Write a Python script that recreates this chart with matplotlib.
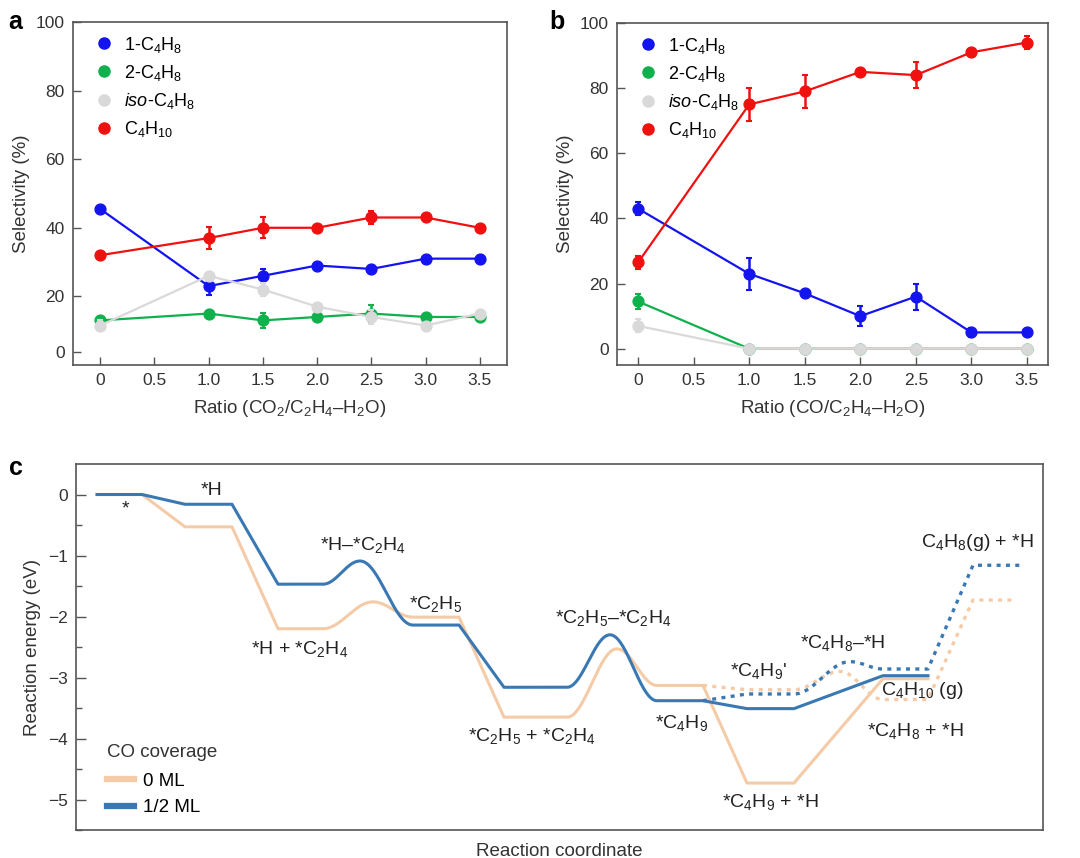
import numpy as np
import matplotlib
matplotlib.use("Agg")
import matplotlib.pyplot as plt
from matplotlib.lines import Line2D

plt.rcParams["font.family"] = ["Liberation Sans", "DejaVu Sans"]
plt.rcParams["mathtext.fontset"] = "custom"
plt.rcParams["mathtext.rm"] = "Liberation Sans"
plt.rcParams["mathtext.it"] = "Liberation Sans:italic"
plt.rcParams["mathtext.default"] = "regular"

# ---- data: panels a and b ----
ratio = [0, 1.0, 1.5, 2.0, 2.5, 3.0, 3.5]
xtick_vals = [0, 0.5, 1.0, 1.5, 2.0, 2.5, 3.0, 3.5]
xtick_labels = ["0", "0.5", "1.0", "1.5", "2.0", "2.5", "3.0", "3.5"]

a_1c4h8 = [45.5, 23, 26, 29, 28, 31, 31]
a_1c4h8_err = [0.5, 2.5, 2, 0.5, 0.5, 0.5, 0.5]
a_2c4h8 = [13, 15, 13, 14, 15, 14, 14]
a_2c4h8_err = [0.5, 0.5, 2.2, 0.5, 2.4, 0.5, 0.5]
a_iso = [11.5, 26, 22, 17, 14, 11.5, 15]
a_iso_err = [1.7, 0.5, 2, 0.5, 2, 0.5, 0.5]
a_c4h10 = [32, 37, 40, 40, 43, 43, 40]
a_c4h10_err = [1, 3.2, 3, 0.5, 2, 0.5, 0.5]

b_1c4h8 = [43, 23, 17, 10, 16, 5, 5]
b_1c4h8_err = [2, 5, 1, 3, 4, 1.5, 0.5]
b_2c4h8 = [14.5, 0, 0, 0, 0, 0, 0]
b_2c4h8_err = [2.3, 0, 0, 0, 0, 0, 0]
b_iso = [7, 0, 0, 0, 0, 0, 0]
b_iso_err = [2, 0, 0, 0, 0, 0, 0]
b_c4h10 = [26.5, 75, 79, 85, 84, 91, 94]
b_c4h10_err = [2, 5, 5, 1, 4, 1, 2]

# ---- data: panel c (energy diagram), x in reaction-coordinate units ----
lvl_start = [97, 185, 278, 413, 504, 657, 747, 883]
lvl_end = [142, 232, 323, 459, 567, 703, 794, 928]
blue_solid = [0, -0.16, -1.47, -2.14, -3.16, -3.38, -3.51, -2.97]
orange_solid = [0, -0.53, -2.20, -2.01, -3.65, -3.13, -4.73, -3.02]
# transition states: (index of level before, peak x, peak energy)
blue_ts = [(2, 360, -1.09), (4, 610, -2.30)]
orange_ts = [(2, 373, -1.76), (4, 617, -2.53)]

# dotted branch: *C4H9 -> *C4H9' -> TS -> *C4H8 + *H -> C4H8(g) + *H
dot_start = [657, 747, 883, 973]
dot_end = [703, 794, 928, 1020]
blue_dot = [-3.38, -3.27, -2.86, -1.16]
blue_dot_ts = (850, -2.74)
orange_dot_end = [703, 794, 928, 1013]
orange_dot = [-3.13, -3.20, -3.36, -1.73]
orange_dot_ts = (840, -2.90)

c_labels = [
    ("*", 125, -0.23),
    ("*H", 212, 0.07),
    ("*H–*C$_2$H$_4$", 363, -0.83),
    ("*H + *C$_2$H$_4$", 300, -2.53),
    ("*C$_2$H$_5$", 436, -1.79),
    ("*C$_2$H$_5$ + *C$_2$H$_4$", 532, -3.96),
    ("*C$_2$H$_5$–*C$_2$H$_4$", 613, -2.02),
    ("*C$_4$H$_9$", 682, -3.74),
    ("*C$_4$H$_9$'", 758, -2.90),
    ("*C$_4$H$_8$–*H", 843, -2.43),
    ("C$_4$H$_{10}$ (g)", 922, -3.22),
    ("*C$_4$H$_8$ + *H", 915, -3.88),
    ("*C$_4$H$_9$ + *H", 770, -5.04),
    ("C$_4$H$_8$(g) + *H", 977, -0.78),
]

BLUE = "#1414f0"
GREEN = "#10b04c"
GREY = "#d9d9d9"
RED = "#f01010"
C_BLUE = "#3a78b4"
C_ORANGE = "#f5cba7"
SPINE = "#555555"
TXT = "#333333"


def hump(x0, e0, xp, ep, x1, e1, n=40):
    t = np.linspace(0, 1, n)
    xa = x0 + (xp - x0) * t
    ea = e0 + (ep - e0) * (1 - np.cos(np.pi * t)) / 2
    xb = xp + (x1 - xp) * t
    eb = e1 + (ep - e1) * (1 + np.cos(np.pi * t)) / 2
    return np.concatenate([xa, xb]), np.concatenate([ea, eb])


def path(starts, ends, energies, ts):
    tsd = {i: (xp, ep) for i, xp, ep in ts}
    xs, es = [], []
    for i in range(len(energies)):
        xs += [starts[i], ends[i]]
        es += [energies[i], energies[i]]
        if i in tsd and i + 1 < len(energies):
            hx, he = hump(ends[i], energies[i], tsd[i][0], tsd[i][1],
                          starts[i + 1], energies[i + 1])
            xs += list(hx[1:-1])
            es += list(he[1:-1])
    return xs, es


def style_axes(ax):
    for s in ax.spines.values():
        s.set_color(SPINE)
        s.set_linewidth(1.2)
    ax.tick_params(direction="in", length=5.5, width=1, color=SPINE,
                   labelcolor=TXT, labelsize=12.5, pad=6)


fig = plt.figure(figsize=(10.8, 8.58), dpi=100)
ax_a = fig.add_axes([0.0676, 0.5746, 0.4018, 0.3998])
ax_b = fig.add_axes([0.5713, 0.5746, 0.3991, 0.3986])
ax_c = fig.add_axes([0.0704, 0.0326, 0.8953, 0.4266])

series_names = ["1-C$_4$H$_8$", "2-C$_4$H$_8$", "$\\it{iso}$-C$_4$H$_8$", "C$_4$H$_{10}$"]
colors = [BLUE, GREEN, GREY, RED]

for ax, data in [
    (ax_a, [(a_1c4h8, a_1c4h8_err), (a_2c4h8, a_2c4h8_err), (a_iso, a_iso_err), (a_c4h10, a_c4h10_err)]),
    (ax_b, [(b_1c4h8, b_1c4h8_err), (b_2c4h8, b_2c4h8_err), (b_iso, b_iso_err), (b_c4h10, b_c4h10_err)]),
]:
    order = [1, 2, 0, 3] if ax is ax_a else [2, 1, 0, 3]
    for k in order:
        vals, err = data[k]
        ax.errorbar(ratio, vals, yerr=err, color=colors[k], marker="o", markersize=7.8,
                    lw=1.6, elinewidth=1.8, capsize=2.5, capthick=1.5, zorder=3 + k)
    handles = [Line2D([], [], ls="none", marker="o", markersize=8, color=c) for c in colors]
    ax.legend(handles, series_names, loc="upper left", frameon=False, fontsize=13,
              handletextpad=0.1, labelspacing=0.45, borderaxespad=0.3,
              bbox_to_anchor=(0.0, 1.0))
    ax.set_xticks(xtick_vals)
    ax.set_xticklabels(xtick_labels)
    ax.set_ylabel("Selectivity (%)", fontsize=13.5, color=TXT, labelpad=4)
    style_axes(ax)

ax_a.set_xlim(-0.25, 3.75)
ax_a.set_ylim(0, 100)
ax_a.set_yticks([3.8, 20, 40, 60, 80, 100])
ax_a.set_yticklabels(["0", "20", "40", "60", "80", "100"])
ax_a.set_xlabel("Ratio (CO$_2$/C$_2$H$_4$–H$_2$O)", fontsize=13.5, color=TXT, labelpad=7)

ax_b.set_xlim(-0.19, 3.69)
ax_b.set_ylim(-5, 100)
ax_b.set_yticks([0, 20, 40, 60, 80, 100])
ax_b.set_xlabel("Ratio (CO/C$_2$H$_4$–H$_2$O)", fontsize=13.5, color=TXT, labelpad=7)

# ---- panel c ----
ox, oe = path(lvl_start, lvl_end, orange_solid, orange_ts)
bx, be = path(lvl_start, lvl_end, blue_solid, blue_ts)
ax_c.plot(ox, oe, color=C_ORANGE, lw=2.2, solid_joinstyle="round", zorder=2)
odx, ode = path(dot_start, orange_dot_end, orange_dot, [])
# insert the dotted barrier between *C4H9' and *C4H8 + *H
hx, he = hump(orange_dot_end[1], orange_dot[1], orange_dot_ts[0], orange_dot_ts[1],
              dot_start[2], orange_dot[2])
odx = odx[:4] + list(hx[1:-1]) + odx[4:]
ode = ode[:4] + list(he[1:-1]) + ode[4:]
ax_c.plot(odx[1:], ode[1:], color=C_ORANGE, lw=2.4, ls=(0, (1.2, 1.6)), zorder=2)

bdx, bde = path(dot_start, dot_end, blue_dot, [])
hx, he = hump(dot_end[1], blue_dot[1], blue_dot_ts[0], blue_dot_ts[1],
              dot_start[2], blue_dot[2])
bdx = bdx[:4] + list(hx[1:-1]) + bdx[4:]
bde = bde[:4] + list(he[1:-1]) + bde[4:]
ax_c.plot(bdx[1:], bde[1:], color=C_BLUE, lw=2.4, ls=(0, (1.2, 1.6)), zorder=3)
ax_c.plot(bx, be, color=C_BLUE, lw=2.2, solid_joinstyle="round", zorder=4)

for txt, x, y in c_labels:
    ax_c.text(x, y, txt, ha="center", va="center", fontsize=14, color="#222222")

ax_c.set_xlim(76, 1043)
ax_c.set_ylim(-5.5, 0.5)
ax_c.set_xticks([])
ax_c.set_yticks([0, -1, -2, -3, -4, -5])
ax_c.set_yticklabels(["0", "−1", "−2", "−3", "−4", "−5"])
ax_c.set_yticks(np.arange(-5.5, 0.5, 0.5), minor=True)
style_axes(ax_c)
ax_c.tick_params(axis="y", which="major", length=7)
ax_c.tick_params(axis="y", which="minor", direction="in", length=4, width=1, color=SPINE)
ax_c.set_ylabel("Reaction energy (eV)", fontsize=13.5, color=TXT, labelpad=5)
ax_c.set_xlabel("Reaction coordinate", fontsize=13.5, color=TXT, labelpad=9)

leg_handles = [Line2D([], [], color=C_ORANGE, lw=4.5), Line2D([], [], color=C_BLUE, lw=4.5)]
leg = ax_c.legend(leg_handles, ["0 ML", "1/2 ML"], title="CO coverage", loc="lower left",
                  frameon=False, fontsize=13.5, title_fontsize=13.5, handlelength=1.4,
                  handletextpad=0.5, labelspacing=0.5, bbox_to_anchor=(0.015, -0.008))
leg._legend_box.align = "left"
leg._legend_box.sep = 8
leg.get_title().set_color(TXT)

fig.text(0.008, 0.988, "a", fontsize=18, fontweight="bold", va="top")
fig.text(0.509, 0.988, "b", fontsize=18, fontweight="bold", va="top")
fig.text(0.008, 0.468, "c", fontsize=18, fontweight="bold", va="top")

fig.savefig("out.png", dpi=100)
